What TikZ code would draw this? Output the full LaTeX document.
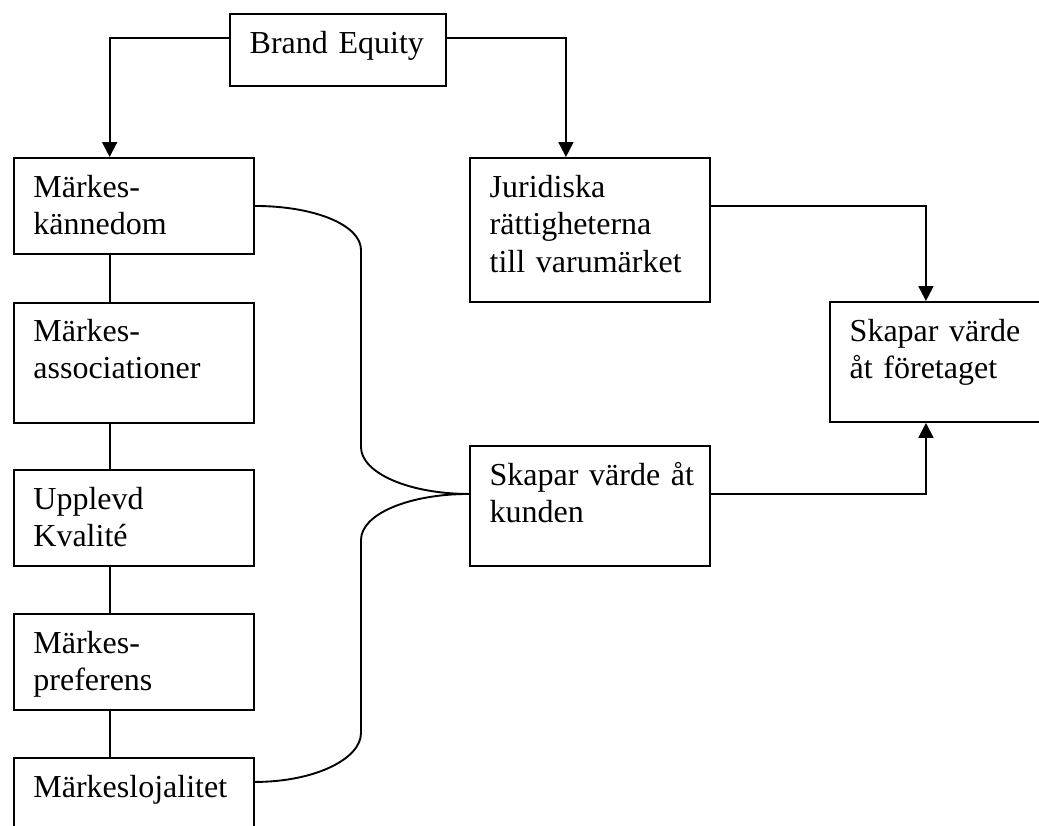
\documentclass[tikz,border=0pt]{standalone}
\usepackage{fontspec}
\setmainfont{Liberation Serif}
\usetikzlibrary{arrows.meta}
\begin{document}
\begin{tikzpicture}[x=1pt,y=-1pt,
  box/.style={draw, line width=1.9pt, rectangle, inner sep=0pt, anchor=north west,
              minimum width=240pt, minimum height=96pt},
  label/.style={anchor=base west, inner sep=0pt, text width=230pt, align=left,
                font=\fontsize{32}{37.5}\selectfont},
  link/.style={line width=1.9pt},
  arr/.style={-{Triangle[length=15pt,width=15pt]}}]
\useasboundingbox (0,0) rectangle (1039,825);
\clip (0,0) rectangle (1039,825);

% boxes
\node[box, minimum width=216pt, minimum height=72pt] (be) at (229,13) {};
\node[label] (bet) at (249.5,53) {Brand Equity};

\node[box] (mk) at (12.7,157) {};
\node[label] (mkt) at (33.2,197) {Märkes-\\kännedom};

\node[box, minimum height=120pt] (ma) at (12.7,301.7) {};
\node[label] (mat) at (33.2,341) {Märkes-\\associationer};

\node[box] (uk) at (12.7,469) {};
\node[label] (ukt) at (33.2,509) {Upplevd\\Kvalité};

\node[box] (mp) at (12.7,613) {};
\node[label] (mpt) at (33.2,653) {Märkes-\\preferens};

\node[box] (ml) at (12.7,757) {};
\node[label] (mlt) at (33.2,797) {Märkeslojalitet};

\node[box, minimum height=144pt] (jr) at (469,157) {};
\node[label] (jrt) at (489.5,197) {Juridiska\\rättigheterna\\till varumärket};

\node[box, minimum height=120pt] (sk) at (469,445) {};
\node[label] (skt) at (489.5,485) {Skapar värde åt\\kunden};

\node[box, minimum height=120pt] (sf) at (829,301) {};
\node[label] (sft) at (849.5,341) {Skapar värde\\åt företaget};

% arrows
\draw[link,arr] ([yshift=12pt]be.west) -| ([xshift=-24pt]mk.north);
\draw[link,arr] ([yshift=12pt]be.east) -| ([xshift=-24pt]jr.north);
\draw[link,arr] ([yshift=24pt]jr.east) -| ([xshift=-24pt]sf.north);
\draw[link,arr] ([yshift=12pt]sk.east) -| ([xshift=-24pt]sf.south);

% chain of the left column
\foreach \a/\b in {mk/ma,ma/uk,uk/mp,mp/ml}
  \draw[link] ([xshift=-24pt]\a.south) -- ([xshift=-24pt]\b.north);

% brace-like curves towards the customer value box
\coordinate (ua) at (361,250);
\coordinate (ub) at (361,447);
\coordinate (la) at (361,540);
\coordinate (lb) at (361,733);
\draw[link] (mk.east) .. controls +(60,0) and +(0,-25) .. (ua) -- (ub)
  .. controls +(0,26) and +(-60,0) .. ([yshift=12pt]sk.west);
\draw[link] ([yshift=24pt]ml.east) .. controls +(60,0) and +(0,26) .. (lb) -- (la)
  .. controls +(0,-26) and +(-60,0) .. ([yshift=12pt]sk.west);
\end{tikzpicture}
\end{document}
